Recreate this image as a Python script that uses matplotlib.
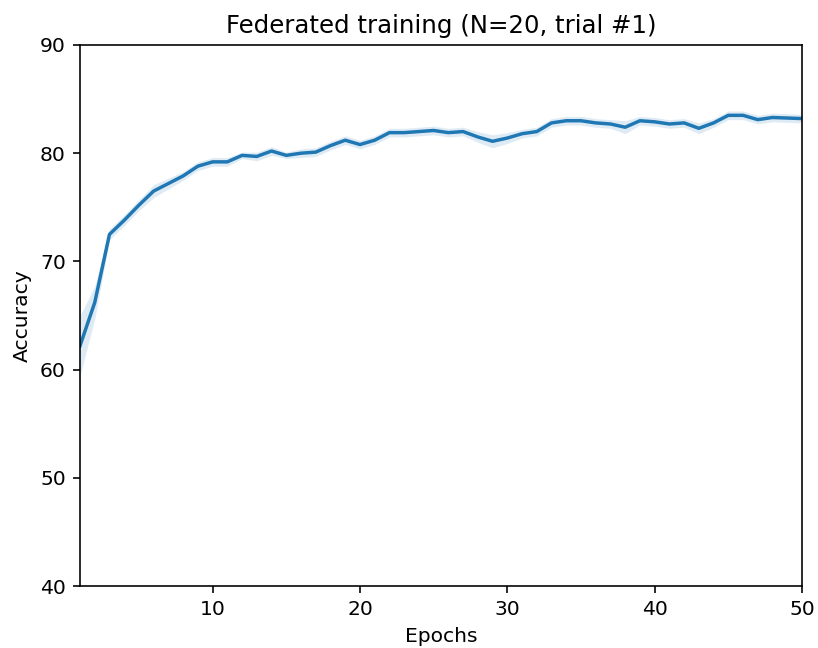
import numpy as np
import matplotlib.pyplot as plt

epochs = np.arange(1, 51)
accuracy = [
    62.2, 66.2, 72.5, 73.8, 75.2, 76.5, 77.2, 77.9, 78.8, 79.2,
    79.2, 79.8, 79.7, 80.2, 79.8, 80.0, 80.1, 80.7, 81.2, 80.8,
    81.2, 81.9, 81.9, 82.0, 82.1, 81.9, 82.0, 81.5, 81.1, 81.4,
    81.8, 82.0, 82.8, 83.0, 83.0, 82.8, 82.7, 82.4, 83.0, 82.9,
    82.7, 82.8, 82.3, 82.8, 83.5, 83.5, 83.1, 83.3, 83.25, 83.2,
]
# half-width of the confidence band around the mean
spread = [
    2.8, 1.5, 0.5, 0.5, 0.5, 0.6, 0.5, 0.4, 0.4, 0.4,
    0.4, 0.3, 0.4, 0.4, 0.3, 0.4, 0.4, 0.4, 0.4, 0.4,
    0.4, 0.4, 0.4, 0.4, 0.4, 0.4, 0.4, 0.5, 0.6, 0.5,
    0.4, 0.4, 0.4, 0.4, 0.4, 0.4, 0.4, 0.6, 0.4, 0.4,
    0.4, 0.4, 0.5, 0.4, 0.4, 0.4, 0.4, 0.4, 0.4, 0.4,
]

acc = np.array(accuracy)
err = np.array(spread)

dpi = 146
fig = plt.figure(figsize=(818 / dpi, 648 / dpi), dpi=dpi)
ax = fig.add_axes([80 / 818, 62 / 648, 722 / 818, 541 / 648])

ax.fill_between(epochs, acc - err, acc + err, color="C0", alpha=0.14, linewidth=0)
ax.plot(epochs, acc, color="C0", linewidth=1.7)

ax.set_xlim(1, 50)
ax.set_ylim(40, 90)
ax.set_xticks([10, 20, 30, 40, 50])
ax.set_yticks([40, 50, 60, 70, 80, 90])
ax.set_xlabel("Epochs")
ax.set_ylabel("Accuracy")
ax.set_title("Federated training (N=20, trial #1)")

fig.savefig("out.png", dpi=dpi)
